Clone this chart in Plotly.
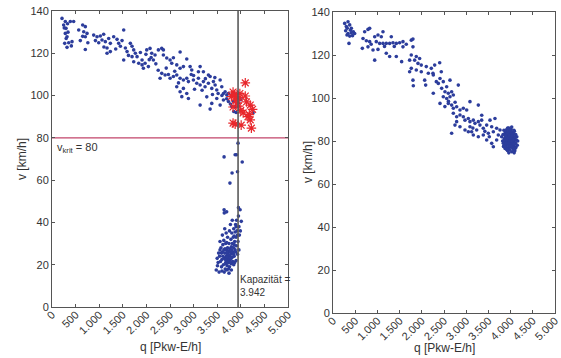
import plotly.graph_objects as go

# ---------------- data ----------------
x_ticks = [0, 500, 1000, 1500, 2000, 2500, 3000, 3500, 4000, 4500, 5000]
x_tick_labels = ["0", "500", "1.000", "1.500", "2.000", "2.500", "3.000", "3.500", "4.000", "4.500", "5.000"]
y_ticks = [0, 20, 40, 60, 80, 100, 120, 140]

v_krit = 80
kapazitaet = 3942

# left panel, free-flow branch (q, v)
left_free = [
    (212,136.5),(282,135),(388,135),(459,135),(247,133.4),(297,131.8),(339,130),(282,129.4),(318,127.8),
    (269,124.7),(354,125),(424,125.5),(318,122.8),(410,123.5),(260,132),(330,134),(300,127),
    (566,131),(650,133.4),(706,132.6),(672,130.2),(742,129.4),(706,127.8),(650,128),(706,121.8),(600,126),(760,125),
    (883,128.6),(954,127.8),(1024,128.2),(1095,129),(1060,126.3),(1130,125.5),(990,125),(1201,127),(1236,124.7),
    (1166,122.5),(1236,120.8),(1166,120),(920,126),(1100,123),
    (1307,127.8),(1378,126.6),(1413,124.7),(1484,126),(1519,131),(1449,123.3),(1555,122.5),(1660,124.7),(1696,123.3),
    (1731,121.6),(1590,120.8),(1766,120),(1696,118.4),(1802,118.4),(1872,120.4),(1908,116.8),(1908,114.5),(1837,115.3),
    (1731,116),(1519,116.8),(1350,122),(1620,119),
    (2007,121.6),(2077,122.3),(2113,120),(2183,119.2),(2148,116.8),(2254,121.6),(2325,122.3),(2360,119.2),(1972,115.3),
    (1936,112.9),(2042,113.7),(2431,117.8),(2502,116.8),(2572,117.9),(2537,115.3),(2643,114.5),(2714,120.6),(2714,112.9),
    (2784,113.7),(2855,117.3),(2926,113.7),(2961,112.1),(2325,110.5),(2396,109.7),(2466,110),(2502,108.2),(2572,109),
    (2643,109.7),(2714,108.2),(2784,107.4),(2855,108.2),(2890,106.6),(2996,107.4),(3067,105.8),(3102,108.2),(3138,105),
    (3208,106.6),(3243,104.2),(3314,105.8),(3350,109),(3385,103.4),(3420,106.6),(3456,105),(3491,102.6),(3138,113.7),
    (3102,111.3),(3208,111.3),(3314,109.7),(3562,107.4),(3597,104.2),(3632,101),(3668,101.8),(3703,100.3),(3738,101),
    (3809,100.3),(2855,101),(2890,98.6),(3138,95.5),(2643,104.2),(2784,103.4),(2290,108.2),(3632,97.9),(3491,98.6),
    (3385,96.3),(3738,97.2),(3844,97.2),(3880,94.8),(3809,94.8),(3562,95.5),(3279,99.4),(2714,101.8),(4260,91.8),
    (2750,99.5),(3350,93.6),(2360,121.6),(2200,115),(2250,112),(2600,111.5),(2950,110),(3020,103),(3180,102.5),
    (3400,100.5),(3520,101),(3700,98.5),(3780,96),(3900,92),(3920,99),(3950,96.5),(4000,98),(3860,101),(2420,113),
    (2680,106),(3000,109.5),(3250,108),(3450,108.5),(3600,100),(3850,92.5),(2100,118),(2060,117),(1990,119.5),
]

# left panel, congested branch (q, v)
left_cong = [
    (3480,17.5),(3520,21),(3550,24),(3560,27),(3590,19),(3600,22.5),(3610,26),(3620,29.5),(3640,31.5),(3630,20),
    (3650,23),(3660,25.5),(3670,18),(3680,21),(3690,24),(3700,27),(3700,22),(3710,19.5),(3720,25),(3720,28),(3730,23),
    (3740,21),(3740,26.5),(3750,30),(3760,24),(3760,19),(3770,27.5),(3780,22.5),(3790,25),(3790,32),(3800,20.5),
    (3800,28.5),(3810,35),(3820,23.5),(3820,30),(3830,26),(3840,33),(3850,37),(3850,28),(3860,24),(3870,31),
    (3880,35.5),(3880,27),(3890,39),(3900,33),(3910,29),(3920,36),(3930,25),(3940,31),(3960,38),(3970,34),(3990,36),
    (4010,40.5),(3560,31),(3540,16.5),(3600,17),(3650,16.5),(3700,17.5),(3750,16),(3800,17.5),(3850,20),(3900,22),
    (3580,28),(3640,27),(3680,30),(3720,33),(3760,36),(3780,39),(3820,41),(3610,34),(3660,37),(3700,45),(3650,44.5),
    (3720,23),(3735,24.5),(3745,22),(3725,21.5),(3755,26),(3710,26),(3690,20.5),(3770,21),(3785,26),(3705,23.5),
    (3675,22.5),(3665,27.5),(3740,18),(3795,23),(3810,27),(3830,21.5),(3860,29.5),(3870,21),(3890,26),(3900,38),
    (3910,41),(3930,34),(3950,43),(3960,27),(3860,33.5),(3845,25),(3700,30.5),(3690,35),(3620,24),(3590,25.5),
    (3570,21.5),(3530,25.5),(3500,23),(3505,19.5),
    (3646,46),(3950,47),(3985,46),(3770,58.6),(3815,63.4),(4030,68.6),(3646,71),(3880,72),(3910,72),(3942,77.5),(3930,64),
]

# left panel, highlighted measurements (red stars)
left_stars = [
    (3836,101.7),(3870,100.5),(3800,99.5),(4095,106),(3836,87),(3880,86.5),(4008,86),(4224,84.6),(4200,88.5),
    (4150,90),(4200,95.5),(4250,93.5),(4095,99.8),(3900,98),(3836,94.6),(3965,99),(4050,91.8),(4180,91),(3950,95),
    (4000,93),(3920,96.5),(3980,101),(4120,97),
]

# right panel (q, v)
right_pts = [
    (263,134.7),(338,135.5),(300,133.2),(376,134),(413,132.4),(285,131.3),(338,130),(413,130.3),(458,130.8),(376,128.8),
    (315,129.3),(360,125.4),(488,130),(320,132.5),(395,131.5),(440,129),
    (713,130.8),(788,131.9),(826,132.4),(676,127.7),(751,126.6),(826,126.2),(661,123.1),(788,123.8),(939,128.5),
    (1013,129.3),(1126,130.8),(1088,128.5),(975,126.2),(1051,125.4),(1126,125.4),(1200,125.4),(1276,125.4),(1351,125.7),
    (1426,125.4),(1501,125.7),(1576,126.2),(1313,128.5),(1576,123.8),(901,122.3),(1013,122.6),(939,117.6),(1200,120.8),
    (1276,119.3),(1426,119.3),(1546,116.9),(1763,126.9),(1801,123.8),(1763,120),(1726,117.6),(1839,117.6),(1876,119.3),
    (1914,116.1),(1951,118.4),(1988,115.3),(1763,113.8),(1726,112.2),(1876,113),(1988,112.2),(2101,114.6),(2214,113.8),
    (2290,115.3),(2403,116.4),(2252,111.5),(2439,112.2),(1801,108.3),(2065,108.3),(2327,107.6),(1809,105.7),(2087,106),
    (1801,127.4),(860,125),(1160,124),(1380,124),(1650,125),
    (2147,111.5),(2259,110.7),(2410,109.1),(2372,106.8),(2484,107.6),(2447,104.5),(2560,105.2),(2635,108.3),(2522,102.9),
    (2597,102.2),(2672,102.9),(2484,100.6),(2560,99.8),(2635,100.6),(2710,101.4),(2822,106),(2259,102.2),(2410,97.5),
    (2597,97.5),(2672,96.7),(2710,95.2),(2785,95.9),(2860,94.4),(2935,95.2),(3011,94.4),(3085,98.3),(3273,96.7),
    (2710,92.9),(2785,91.3),(2860,92.1),(2935,91.3),(2973,89.7),(3048,90.5),(3085,89),(3160,89.7),(3198,88.2),(3273,89),
    (3310,87.4),(3348,89.7),(2785,89),(2747,87.4),(2860,86.6),(2973,85.1),(3085,86.6),(3123,84.3),(3236,85.1),
    (3385,85.9),(3461,87.4),(3536,89.7),(3648,90.5),(3574,86.6),(3611,84.3),(3498,83.6),(3385,82.8),(3273,82),
    (3160,82.8),(2672,83.6),(3048,84.3),(3461,80.5),(3574,78.9),(3686,80.5),(3723,82.8),(3761,85.1),(3686,85.9),
    (3799,82),(3611,77.3),(3836,78.9),(2600,98.5),(2750,98),(2520,96),(3350,92),(3150,86),(3420,84.5),(3520,82),
    (3820,80),(3830,83),(3840,77.5),(3850,85),(3855,81),(3860,79),(3870,83.5),(3875,76.5),(3880,81.5),(3890,78),
    (3890,84.5),(3895,80.5),(3900,82.5),(3905,77),(3910,79.5),(3915,85.5),(3920,81),(3925,83),(3930,78.5),(3935,75.5),
    (3940,80),(3940,84),(3945,82),(3950,77),(3955,79),(3960,81.5),(3960,86),(3965,83.5),(3970,78),(3975,80.5),
    (3980,82.5),(3980,76),(3985,79.5),(3990,84.5),(3995,81),(4000,78.5),(4000,83),(4005,80),(4010,85.5),(4015,77.5),
    (4020,82),(4020,79),(4025,75),(4030,81),(4035,84),(4040,78),(4040,80.5),(4045,82.5),(4050,76.5),(4055,79.5),
    (4060,83.5),(4065,81),(4070,77.5),(4075,85),(4080,80),(4085,82),(4090,78.5),(4095,75.5),(4100,81.5),(4110,79),
    (4115,83),(4120,77),(4130,80.5),(4140,82),(4150,78),(4160,80),(3870,80),(3885,82.5),(3900,79),(3915,81.5),
    (3930,83.5),(3945,79),(3955,84.5),(3965,80),(3975,82),(3985,77.5),(3995,79),(4005,82),(4015,80.5),(4025,83),
    (4035,79.5),(4045,77),(4060,80.5),(4075,78.5),(4085,84.5),(4100,76.5),(3925,80.5),(3950,81.5),(3970,82.5),
    (3990,80.5),(4010,81.5),(4030,82.5),(4050,80.5),(3910,76),(4065,76),(3960,74.5),(4080,74.5),(3935,86),(4025,86.5),
    (3985,85),(4000,80),(3980,80),(4020,80),
]

# ---------------- figure ----------------
FONT = "Liberation Sans, Arial, sans-serif"
TXT = "#333333"
BLUE = "#2c3d9c"
RED = "#e8262b"

fig = go.Figure()

def xs(pts):
    return [p[0] for p in pts]

def ys(pts):
    return [p[1] for p in pts]

dot = dict(color=BLUE, size=3.6, line=dict(width=0))

fig.add_trace(go.Scatter(x=xs(left_free), y=ys(left_free), mode="markers", marker=dot,
                         xaxis="x", yaxis="y", showlegend=False, hoverinfo="skip"))
fig.add_trace(go.Scatter(x=xs(left_cong), y=ys(left_cong), mode="markers", marker=dot,
                         xaxis="x", yaxis="y", showlegend=False, hoverinfo="skip"))
fig.add_trace(go.Scatter(x=xs(left_stars), y=ys(left_stars), mode="markers",
                         marker=dict(symbol="asterisk-open", size=8, color=RED, line=dict(color=RED, width=1.2)),
                         xaxis="x", yaxis="y", showlegend=False, hoverinfo="skip"))
fig.add_trace(go.Scatter(x=xs(right_pts), y=ys(right_pts), mode="markers", marker=dot,
                         xaxis="x2", yaxis="y2", showlegend=False, hoverinfo="skip"))

# reference lines (left panel)
fig.add_shape(type="line", xref="x", yref="y", x0=0, x1=5000, y0=v_krit, y1=v_krit,
              line=dict(color="#c2456a", width=1.1), layer="below")
fig.add_shape(type="line", xref="x", yref="y", x0=kapazitaet, x1=kapazitaet, y0=0, y1=140,
              line=dict(color="#5a5a5a", width=1.6), layer="above")

axis_common = dict(
    showgrid=False, zeroline=False, showline=True, linecolor="#555555", linewidth=1,
    mirror="ticks", ticks="inside", ticklen=3, tickcolor="#555555", automargin=False,
    tickfont=dict(family=FONT, size=11, color=TXT),
)

fig.update_layout(
    template="none",
    width=561, height=358, autosize=False,
    margin=dict(l=0, r=0, t=0, b=0, pad=0),
    paper_bgcolor="white", plot_bgcolor="white",
    font=dict(family=FONT, color=TXT),
    xaxis=dict(domain=[52/561, 288/561], range=[0, 5000], tickvals=x_ticks, ticktext=x_tick_labels,
               tickangle=-45, ticklabelstandoff=-4, anchor="y", **axis_common),
    yaxis=dict(domain=[(358-307)/358, (358-11)/358], range=[0, 140], tickvals=y_ticks,
               anchor="x", **axis_common),
    xaxis2=dict(domain=[333/561, 555/561], range=[0, 5000], tickvals=x_ticks, ticktext=x_tick_labels,
                tickangle=-45, ticklabelstandoff=-4, anchor="y2", **axis_common),
    yaxis2=dict(domain=[(358-313)/358, (358-12)/358], range=[0, 140], tickvals=y_ticks,
                anchor="x2", **axis_common),
)

ann_font = dict(family=FONT, size=12, color=TXT)
fig.add_annotation(text="v [km/h]", xref="paper", yref="paper", x=22/561, y=(358-159)/358,
                   textangle=-90, showarrow=False, font=ann_font, xanchor="center", yanchor="middle")
fig.add_annotation(text="v [km/h]", xref="paper", yref="paper", x=308/561, y=(358-162)/358,
                   textangle=-90, showarrow=False, font=ann_font, xanchor="center", yanchor="middle")
fig.add_annotation(text="q [Pkw-E/h]", xref="paper", yref="paper", x=170/561, y=(358-347)/358,
                   showarrow=False, font=ann_font, xanchor="center", yanchor="middle")
fig.add_annotation(text="q [Pkw-E/h]", xref="paper", yref="paper", x=444/561, y=(358-348)/358,
                   showarrow=False, font=ann_font, xanchor="center", yanchor="middle")

fig.add_annotation(text="v<sub>krit</sub> = 80", xref="paper", yref="paper", x=55/561, y=(358-148)/358,
                   showarrow=False, font=dict(family=FONT, size=11, color=TXT), xanchor="left", yanchor="middle")
fig.add_annotation(text="Kapazität =", xref="x", yref="paper", x=kapazitaet, xshift=1, y=(358-286)/358,
                   showarrow=False, font=dict(family=FONT, size=10, color=TXT), xanchor="left", yanchor="bottom",
                   borderpad=0)
fig.add_annotation(text="3.942", xref="x", yref="paper", x=kapazitaet, xshift=1, y=(358-286)/358,
                   showarrow=False, font=dict(family=FONT, size=10, color=TXT), xanchor="left", yanchor="top",
                   borderpad=0)

fig.write_html("out.html", config={"displayModeBar": False},
               post_script="document.body.style.margin='0';document.body.style.overflow='hidden';")
